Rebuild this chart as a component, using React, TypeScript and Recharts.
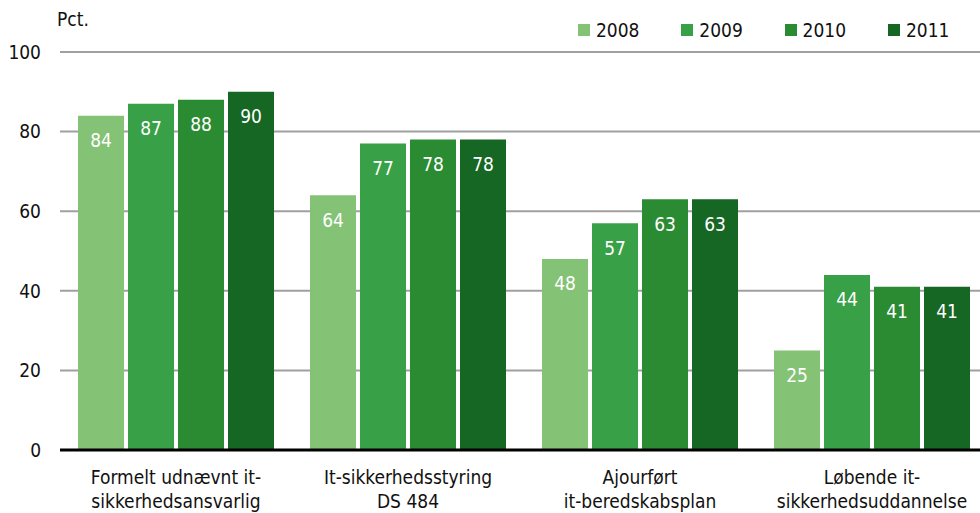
import React from 'react';
import { BarChart, Bar, XAxis, YAxis, CartesianGrid, LabelList } from 'recharts';

const categories = [
  'Formelt udnævnt it-\nsikkerhedsansvarlig',
  'It-sikkerhedsstyring\nDS 484',
  'Ajourført\nit-beredskabsplan',
  'Løbende it-\nsikkerhedsuddannelse',
];
const years = ['2008', '2009', '2010', '2011'];
const v2008 = [84, 64, 48, 25];
const v2009 = [87, 77, 57, 44];
const v2010 = [88, 78, 63, 41];
const v2011 = [90, 78, 63, 41];
const yTicks = [0, 20, 40, 60, 80, 100];
const yUnit = 'Pct.';

const seriesValues = [v2008, v2009, v2010, v2011];
const colors = ['#84c276', '#38a046', '#2b8b33', '#166624'];
const FONT = "'Liberation Sans Narrow', 'Arial Narrow', 'DejaVu Sans Condensed', sans-serif";
const FS = 19;

const data = categories.map((c, i) => {
  const row: any = { name: c };
  years.forEach((y, k) => {
    row[y] = seriesValues[k][i];
  });
  return row;
});

const CatTick = (props: any) => {
  const { x, y, payload } = props;
  const lines = String(payload.value).split('\n');
  return (
    <text x={x} y={y} textAnchor="middle" fontSize={FS} fill="#111" fontFamily={FONT}>
      {lines.map((l, i) => (
        <tspan key={i} x={x} dy={i === 0 ? 34 : 24}>
          {l}
        </tspan>
      ))}
    </text>
  );
};

export default function App() {
  return (
    <div style={{ position: 'absolute', left: 0, top: 0, width: 980, height: 513, overflow: 'hidden', background: '#fff' }}>
      <BarChart
        width={988}
        height={513}
        data={data}
        margin={{ top: 52, right: 0, left: 0, bottom: 0 }}
        barSize={46}
        barGap={4}
      >
        <CartesianGrid vertical={false} stroke="#a0a0a0" strokeWidth={2} />
        <YAxis
          width={60}
          domain={[0, 100]}
          ticks={yTicks}
          axisLine={false}
          tickLine={false}
          tickSize={0}
          tickMargin={19}
          tick={{ fill: '#111', fontSize: FS, fontFamily: FONT }}
          interval={0}
        />
        <XAxis
          dataKey="name"
          height={63}
          axisLine={{ stroke: '#000', strokeWidth: 3 }}
          tickLine={false}
          tickSize={0}
          tickMargin={0}
          interval={0}
          tick={<CatTick />}
        />
        {years.map((y, k) => (
          <Bar key={y} dataKey={y} fill={colors[k]} isAnimationActive={false}>
            <LabelList
              dataKey={y}
              position="insideTop"
              offset={18}
              fill="#fff"
              fontSize={FS}
              fontFamily={FONT}
            />
          </Bar>
        ))}
      </BarChart>
      <div style={{ position: 'absolute', left: 57, top: 8, fontFamily: FONT, fontSize: FS, color: '#111' }}>{yUnit}</div>
      {years.map((y, k) => (
        <div
          key={y}
          style={{ position: 'absolute', left: 578 + k * 103.3, top: 19, display: 'flex', alignItems: 'center', fontFamily: FONT, fontSize: FS, color: '#111' }}
        >
          <span style={{ display: 'inline-block', width: 12, height: 12, background: colors[k], marginRight: 6 }} />
          <span>{y}</span>
        </div>
      ))}
    </div>
  );
}
